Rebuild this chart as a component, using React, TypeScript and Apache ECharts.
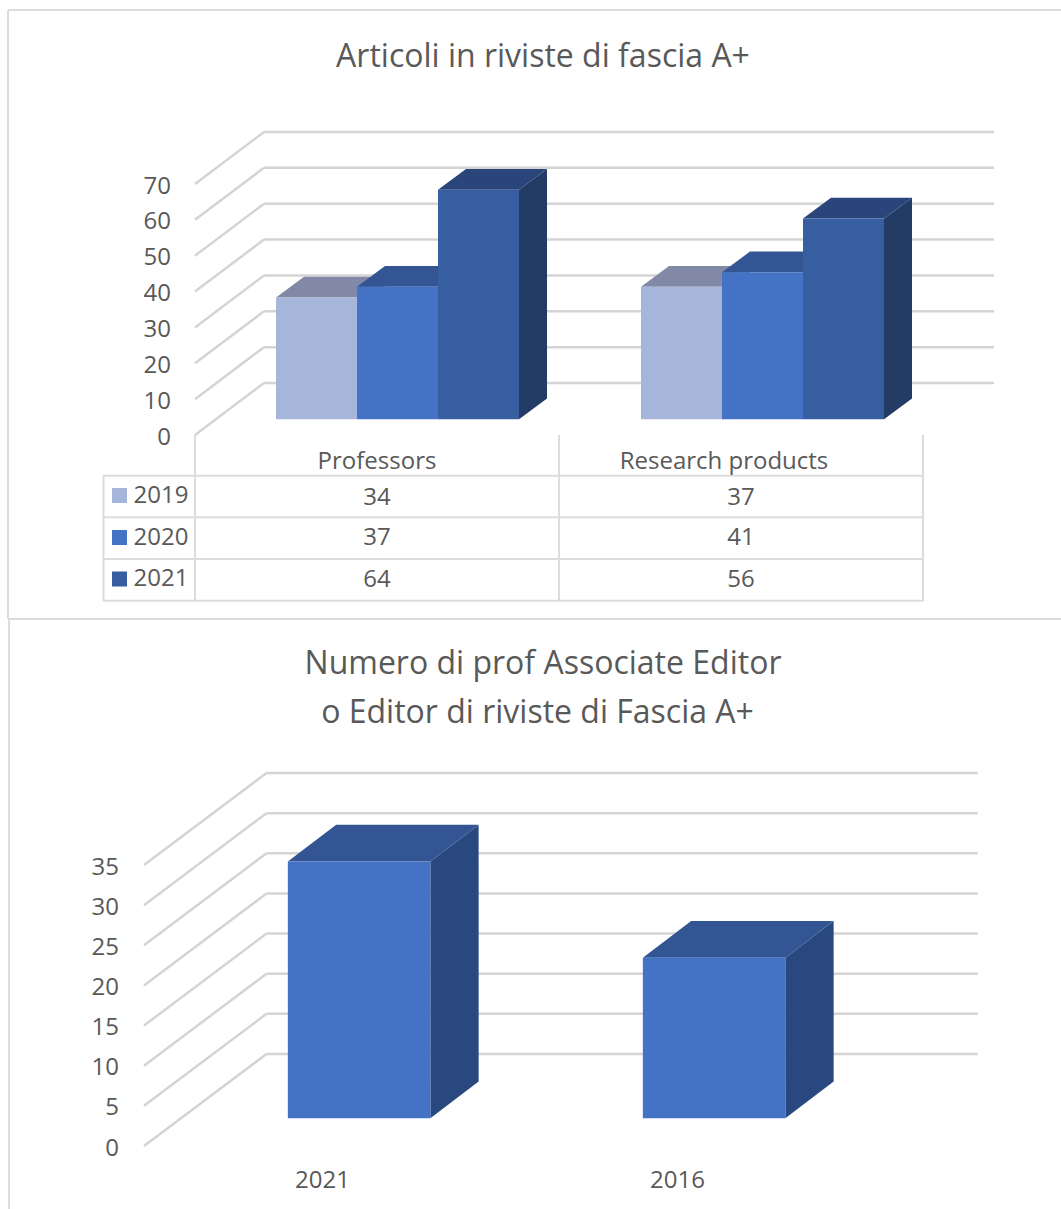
import React, { useEffect, useRef } from "react";
import * as echarts from "echarts";

const TITLE_A = "Articoli in riviste di fascia A+";
const TITLE_B1 = "Numero di prof Associate Editor";
const TITLE_B2 = "o Editor di riviste di Fascia A+";

const categoriesA = ["Professors", "Research products"];
const seriesNamesA = ["2019", "2020", "2021"];
const values2019 = [34, 37];
const values2020 = [37, 41];
const values2021 = [64, 56];
const seriesValuesA = [values2019, values2020, values2021];
const ticksA = [0, 10, 20, 30, 40, 50, 60, 70];

const categoriesB = ["2021", "2016"];
const valuesB = [32, 20];
const ticksB = [0, 5, 10, 15, 20, 25, 30, 35];

const TEXT = "#595959";
const LINE = "#d4d4d4";
const FRAME = "#dcdcdc";
const FONT = "'Open Sans', sans-serif";
const COLORS_A = [
  { front: "#a6b5da", top: "#8189a7", side: "#8189a7" },
  { front: "#4472c4", top: "#335593", side: "#2a4880" },
  { front: "#365ea1", top: "#29457a", side: "#223c66" },
];
const COLORS_B = { front: "#4472c4", top: "#335593", side: "#2a4880" };

const gridA = { left: 195, top: 184, width: 728, height: 251 };
const gridB = { left: 144, top: 865, width: 710, height: 281 };
const nudgeA = [20.5, 21.5];

function wall(wallDx: number, wallDy: number, right: number) {
  return (params: any, api: any) => {
    const y = api.coord([0, api.value(0)])[1];
    const x0 = params.coordSys.x;
    const lineStyle = { stroke: LINE, lineWidth: 2.5, fill: "none" };
    return {
      type: "group",
      silent: true,
      children: [
        { type: "line", shape: { x1: x0, y1: y, x2: x0 + wallDx, y2: y + wallDy }, style: lineStyle },
        { type: "line", shape: { x1: x0 + wallDx, y1: y + wallDy, x2: right, y2: y + wallDy }, style: lineStyle },
      ],
    };
  };
}

function box(
  x: number,
  w: number,
  yTop: number,
  yBase: number,
  dx: number,
  dy: number,
  c: { front: string; top: string; side: string }
) {
  return [
    {
      type: "polygon",
      shape: { points: [[x + w, yTop], [x + w + dx, yTop + dy], [x + w + dx, yBase + dy], [x + w, yBase]] },
      style: { fill: c.side },
    },
    {
      type: "polygon",
      shape: { points: [[x, yTop], [x + dx, yTop + dy], [x + w + dx, yTop + dy], [x + w, yTop]] },
      style: { fill: c.top },
    },
    { type: "rect", shape: { x, y: yTop, width: w, height: yBase - yTop }, style: { fill: c.front } },
  ];
}

function barsA(params: any, api: any) {
  const cat = api.value(0);
  const s = api.value(1);
  const val = api.value(2);
  const w = 81;
  const cx = api.coord([cat, 0])[0] + nudgeA[cat];
  const x = cx - (3 * w) / 2 + s * w;
  const shift = -15.7;
  return {
    type: "group",
    silent: true,
    children: box(x, w, api.coord([cat, val])[1] + shift, api.coord([cat, 0])[1] + shift, 28, -20.7, COLORS_A[s]),
  };
}

function barsB(params: any, api: any) {
  const cat = api.value(0);
  const val = api.value(1);
  const w = 142.5;
  const cx = api.coord([cat, 0])[0] + 37.6;
  const shift = -27.7;
  return {
    type: "group",
    silent: true,
    children: box(cx - w / 2, w, api.coord([cat, val])[1] + shift, api.coord([cat, 0])[1] + shift, 48.3, -36.7, COLORS_B),
  };
}

const swatchY = [495.5, 537.5, 579];
const nameY = [493.5, 535, 576];
const cellY = [495, 535.5, 577];
const tableHLines = [475.7, 517.3, 559, 600.7];

function tableGraphics() {
  const lineStyle = { stroke: FRAME, lineWidth: 2 };
  const els: any[] = [];
  const ln = (x1: number, y1: number, x2: number, y2: number) =>
    els.push({ type: "line", shape: { x1, y1, x2, y2 }, style: lineStyle, silent: true });
  tableHLines.forEach((y) => ln(103, y, 923, y));
  ln(103.5, 475, 103.5, 601);
  [195, 559, 923].forEach((x) => ln(x, 435, x, 601));
  // outer frames
  ln(8, 10, 1061, 10);
  ln(8, 10, 8, 619);
  ln(8, 619, 1061, 619);
  ln(9, 619, 9, 1209);
  seriesNamesA.forEach((name, i) => {
    els.push({
      type: "rect",
      shape: { x: 112, y: swatchY[i] - 7.5, width: 15, height: 15 },
      style: { fill: COLORS_A[i].front },
      silent: true,
    });
    els.push({
      type: "text",
      style: { text: name, x: 133.5, y: nameY[i], fill: TEXT, font: `24px ${FONT}`, textAlign: "left", textVerticalAlign: "middle" },
      silent: true,
    });
    categoriesA.forEach((_, c) => {
      els.push({
        type: "text",
        style: {
          text: String(seriesValuesA[i][c]),
          x: 377 + c * 364,
          y: cellY[i],
          fill: TEXT,
          font: `24px ${FONT}`,
          textAlign: "center",
          textVerticalAlign: "middle",
        },
        silent: true,
      });
    });
  });
  return els;
}

const axisLabel = (extra: any) => ({ color: TEXT, fontSize: 24, fontFamily: FONT, ...extra });
const hidden = { axisLine: { show: false }, axisTick: { show: false }, splitLine: { show: false } };
const titleStyle = { color: TEXT, fontSize: 32, fontWeight: 400, fontFamily: FONT };

export default function App() {
  const ref = useRef<HTMLDivElement>(null);
  useEffect(() => {
    if (!ref.current) return;
    const chart = echarts.init(ref.current, undefined, { renderer: "svg" });
    const dataA: number[][] = [];
    categoriesA.forEach((_, c) => seriesNamesA.forEach((__, s) => dataA.push([c, s, seriesValuesA[s][c]])));
    chart.setOption({
      animation: false,
      backgroundColor: "#ffffff",
      title: [
        { text: TITLE_A, left: 538, top: 33, textAlign: "center", textStyle: titleStyle },
        { text: TITLE_B1, left: 538, top: 640, textAlign: "center", textStyle: titleStyle },
        { text: TITLE_B2, left: 532.5, top: 689, textAlign: "center", textStyle: titleStyle },
      ],
      grid: [
        { ...gridA, containLabel: false },
        { ...gridB, containLabel: false },
      ],
      xAxis: [
        {
          gridIndex: 0,
          type: "category",
          data: categoriesA,
          ...hidden,
          axisLabel: axisLabel({
            margin: 12,
            interval: 0,
            hideOverlap: false,
            formatter: (v: string) => (v === categoriesA[1] ? `{shifted|${v}}` : v),
            rich: { shifted: { color: TEXT, fontSize: 24, fontFamily: FONT, padding: [0, 34, 0, 0] } },
          }),
        },
        { gridIndex: 1, type: "category", data: categoriesB, ...hidden, axisLabel: axisLabel({ margin: 20, padding: [0, 0, 0, 2] }) },
      ],
      yAxis: [
        { gridIndex: 0, type: "value", min: 0, max: 70, interval: 10, ...hidden, axisLabel: axisLabel({ margin: 24, padding: [0, 0, 3, 0] }) },
        { gridIndex: 1, type: "value", min: 0, max: 35, interval: 5, ...hidden, axisLabel: axisLabel({ margin: 25 }) },
      ],
      series: [
        {
          type: "custom", xAxisIndex: 0, yAxisIndex: 0, z: 1, clip: false,
          renderItem: wall(69, -52, 994), data: ticksA.map((t) => [t]), encode: { y: 0 },
        },
        {
          type: "custom", xAxisIndex: 1, yAxisIndex: 1, z: 1, clip: false,
          renderItem: wall(122.5, -92, 977.7), data: ticksB.map((t) => [t]), encode: { y: 0 },
        },
        {
          type: "custom", xAxisIndex: 0, yAxisIndex: 0, z: 2, clip: false,
          renderItem: barsA, data: dataA, encode: { x: 0, y: 2 },
        },
        {
          type: "custom", xAxisIndex: 1, yAxisIndex: 1, z: 2, clip: false,
          renderItem: barsB, data: valuesB.map((v, c) => [c, v]), encode: { x: 0, y: 1 },
        },
      ],
      graphic: tableGraphics(),
    });
    return () => chart.dispose();
  }, []);
  return <div ref={ref} style={{ position: "absolute", left: 0, top: 0, width: 1061, height: 1209 }} />;
}
